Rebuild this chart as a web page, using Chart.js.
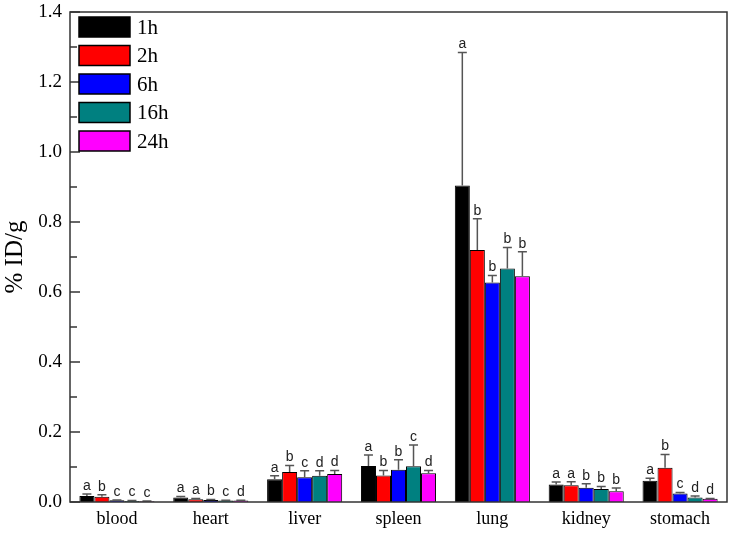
<!DOCTYPE html>
<html>
<head>
<meta charset="utf-8">
<script src="https://cdn.jsdelivr.net/npm/chart.js@4"></script>
<style>
  body { margin: 0; background: #fff; }
  #wrap { width: 734px; height: 535px; }
</style>
</head>
<body>
<div id="wrap"><canvas id="organChart" width="734" height="535"></canvas></div>
<script>
// organs and time points
const organs = ['blood', 'heart', 'liver', 'spleen', 'lung', 'kidney', 'stomach'];
const times = ['1h', '2h', '6h', '16h', '24h'];
const barColors = ['#000000', '#ff0000', '#0000ff', '#008080', '#ff00ff'];

// mean %ID/g per time point
const v1h  = [0.017, 0.013, 0.065, 0.103, 0.904, 0.050, 0.061];
const v2h  = [0.015, 0.008, 0.086, 0.076, 0.720, 0.048, 0.098];
const v6h  = [0.005, 0.006, 0.071, 0.092, 0.627, 0.041, 0.024];
const v16h = [0.003, 0.004, 0.075, 0.102, 0.667, 0.037, 0.013];
const v24h = [0.002, 0.004, 0.080, 0.082, 0.645, 0.031, 0.009];

// upper end of error bars
const e1h  = [0.023, 0.016, 0.075, 0.134, 1.284, 0.057, 0.068];
const e2h  = [0.021, 0.010, 0.104, 0.090, 0.809, 0.058, 0.136];
const e6h  = [0.006, 0.007, 0.089, 0.121, 0.647, 0.052, 0.027];
const e16h = [0.004, 0.005, 0.089, 0.163, 0.727, 0.044, 0.017];
const e24h = [0.003, 0.005, 0.090, 0.090, 0.715, 0.040, 0.010];

// significance letters per organ
const letters = [
    ['a', 'b', 'c', 'c', 'c'],
    ['a', 'a', 'b', 'c', 'd'],
    ['a', 'b', 'c', 'd', 'd'],
    ['a', 'b', 'b', 'c', 'd'],
    ['a', 'b', 'b', 'b', 'b'],
    ['a', 'a', 'b', 'b', 'b'],
    ['a', 'b', 'c', 'd', 'd']
];

const yTicks = [0, 0.2, 0.4, 0.6, 0.8, 1.0, 1.2, 1.4];

const values = [v1h, v2h, v6h, v16h, v24h];
const errTops = [e1h, e2h, e6h, e16h, e24h];

const serif = '"Liberation Serif", "Times New Roman", serif';

// error bars, letters, frame, inward ticks and legend
const extras = {
    id: 'extras',
    afterDatasetsDraw(chart) {
        const ctx = chart.ctx;
        const y = chart.scales.y;
        ctx.save();
        chart.data.datasets.forEach((ds, di) => {
            const meta = chart.getDatasetMeta(di);
            meta.data.forEach((bar, i) => {
                const top = y.getPixelForValue(errTops[di][i]);
                const base = bar.y;
                ctx.strokeStyle = '#555';
                ctx.lineWidth = 1.5;
                ctx.beginPath();
                ctx.moveTo(bar.x, base);
                ctx.lineTo(bar.x, top);
                ctx.moveTo(bar.x - 4.5, top);
                ctx.lineTo(bar.x + 4.5, top);
                ctx.stroke();
                ctx.fillStyle = '#222';
                ctx.font = '14px "Liberation Sans", Arial, sans-serif';
                ctx.textAlign = 'center';
                ctx.textBaseline = 'bottom';
                ctx.fillText(letters[i][di], bar.x, top - 1);
            });
        });
        const a = chart.chartArea;
        ctx.strokeStyle = '#333';
        ctx.lineWidth = 1.5;
        ctx.strokeRect(a.left, a.top, a.right - a.left, a.bottom - a.top);
        // inward ticks on y axis
        for (let k = 0; k <= 14; k++) {
            const py = y.getPixelForValue(k / 10);
            const len = k % 2 === 0 ? 10 : 7;
            ctx.beginPath();
            ctx.moveTo(a.left, py);
            ctx.lineTo(a.left + len, py);
            ctx.stroke();
        }
        // legend inside the plot
        chart.data.datasets.forEach((ds, i) => {
            const ly = a.top + 5 + i * 28.5;
            ctx.fillStyle = ds.backgroundColor;
            ctx.fillRect(a.left + 9, ly, 51, 20);
            ctx.strokeStyle = '#000';
            ctx.lineWidth = 1.5;
            ctx.strokeRect(a.left + 9, ly, 51, 20);
            ctx.fillStyle = '#000';
            ctx.font = '21px ' + serif;
            ctx.textAlign = 'left';
            ctx.textBaseline = 'middle';
            ctx.fillText(ds.label, a.left + 67, ly + 11);
        });
        ctx.restore();
    }
};

function renderChart() {
    const ctx = document.getElementById('organChart').getContext('2d');
    new Chart(ctx, {
        type: 'bar',
        data: {
            labels: organs,
            datasets: times.map((t, i) => ({
                label: t,
                data: values[i],
                backgroundColor: barColors[i],
                borderColor: '#000',
                borderWidth: 1,
                barPercentage: 1.0,
                categoryPercentage: 0.8
            }))
        },
        options: {
            responsive: false,
            animation: false,
            layout: { padding: { top: 12, right: 7, left: 0, bottom: 0 } },
            plugins: {
                legend: { display: false },
                tooltip: { enabled: false }
            },
            scales: {
                x: {
                    grid: { display: false, drawTicks: false, tickLength: 0 },
                    border: { display: false },
                    ticks: {
                        color: '#000',
                        padding: 6,
                        font: { family: serif, size: 18 }
                    },
                    afterFit: s => { s.height = 33; s.paddingLeft = 0; s.paddingRight = 0; }
                },
                y: {
                    min: 0,
                    max: 1.4,
                    afterBuildTicks: s => { s.ticks = yTicks.map(v => ({ value: v })); },
                    grid: { display: false, drawTicks: false, tickLength: 0 },
                    border: { display: false },
                    ticks: {
                        color: '#000',
                        padding: 8,
                        font: { family: serif, size: 19 },
                        callback: v => v.toFixed(1)
                    },
                    title: {
                        display: true,
                        text: '% ID/g',
                        color: '#000',
                        padding: 0,
                        font: { family: serif, size: 25 }
                    },
                    afterFit: s => { s.width = 70; s.paddingTop = 0; s.paddingBottom = 0; }
                }
            }
        },
        plugins: [extras]
    });
}

document.addEventListener('DOMContentLoaded', renderChart);
</script>
</body>
</html>
